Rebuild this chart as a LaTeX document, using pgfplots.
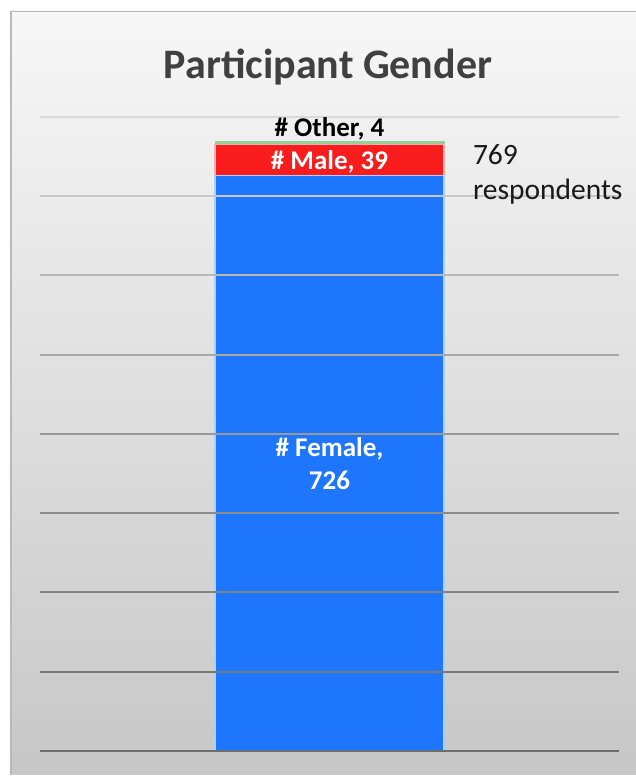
\documentclass[border=0pt]{standalone}
\usepackage{pgfplots}
\pgfplotsset{compat=1.18}
\usepackage{fontspec}
\setmainfont{Carlito}
\definecolor{femaleblue}{RGB}{30,118,252}
\definecolor{malered}{RGB}{248,28,28}
\definecolor{othergreen}{RGB}{150,208,150}
\definecolor{titlegray}{RGB}{64,64,64}
\definecolor{framegray}{RGB}{185,185,185}
\begin{document}
\begin{tikzpicture}[x=1bp,y=1bp]
\useasboundingbox (0,0) rectangle (636,776);
\fill[white] (0,0) rectangle (636,776);
% chart area with its soft vertical gradient
\shade[top color=white!97!black, middle color=white!89!black, bottom color=white!78!black]
  (10,1) rectangle (636,765);
\draw[framegray, line width=1.5bp] (10.75,1) -- (10.75,764.25) -- (636,764.25);
\node[anchor=base, text=titlegray, font=\fontsize{42bp}{50bp}\selectfont\bfseries]
  at (328,697) {Participant Gender};
\begin{axis}[
  at={(40bp,25bp)}, anchor=south west,
  scale only axis, width=579bp, height=634bp,
  xmin=0, xmax=1, ymin=0, ymax=800,
  hide axis, clip=false,
  ybar stacked, bar width=229bp,
]
% horizontal gridlines, lighter towards the top
\draw[black!57, line width=2bp] (axis cs:0,0)   -- (axis cs:1,0);
\draw[black!53, line width=2bp] (axis cs:0,100) -- (axis cs:1,100);
\draw[black!49, line width=2bp] (axis cs:0,200) -- (axis cs:1,200);
\draw[black!45, line width=2bp] (axis cs:0,300) -- (axis cs:1,300);
\draw[black!40, line width=2bp] (axis cs:0,400) -- (axis cs:1,400);
\draw[black!34, line width=2bp] (axis cs:0,500) -- (axis cs:1,500);
\draw[black!28, line width=2bp] (axis cs:0,600) -- (axis cs:1,600);
\draw[black!22, line width=2bp] (axis cs:0,700) -- (axis cs:1,700);
\draw[black!15, line width=2bp] (axis cs:0,800) -- (axis cs:1,800);
% stacked counts: female, male, other
\addplot[fill=femaleblue, draw=femaleblue!35!white, line width=1.2bp] coordinates {(0.5,726)};
\addplot[fill=malered, draw=malered!35!white, line width=1.2bp] coordinates {(0.5,39)};
\addplot[fill=othergreen, draw=othergreen, line width=0.5bp] coordinates {(0.5,4)};
% anchor points for the segment labels
\coordinate (otherlbl)  at (axis cs:0.5,775);
\coordinate (malelbl)   at (axis cs:0.5,733.5);
\coordinate (femalelbl) at (axis cs:0.5,363);
\coordinate (totallbl)  at (axis cs:0.7475,728);
\end{axis}
\node[anchor=base, font=\fontsize{27bp}{33bp}\selectfont\bfseries, text=black]
  at (otherlbl) {\# Other, 4};
\node[anchor=base, font=\fontsize{27bp}{33bp}\selectfont\bfseries, text=white]
  at (malelbl) {\# Male, 39};
\node[anchor=center, align=center, font=\fontsize{27bp}{33bp}\selectfont\bfseries, text=white]
  at (femalelbl) {\# Female,\\726};
\node[anchor=west, align=left, inner sep=0pt, font=\fontsize{29.5bp}{35bp}\selectfont, text=black!90]
  at (totallbl) {769\\respondents};
\end{tikzpicture}
\end{document}
